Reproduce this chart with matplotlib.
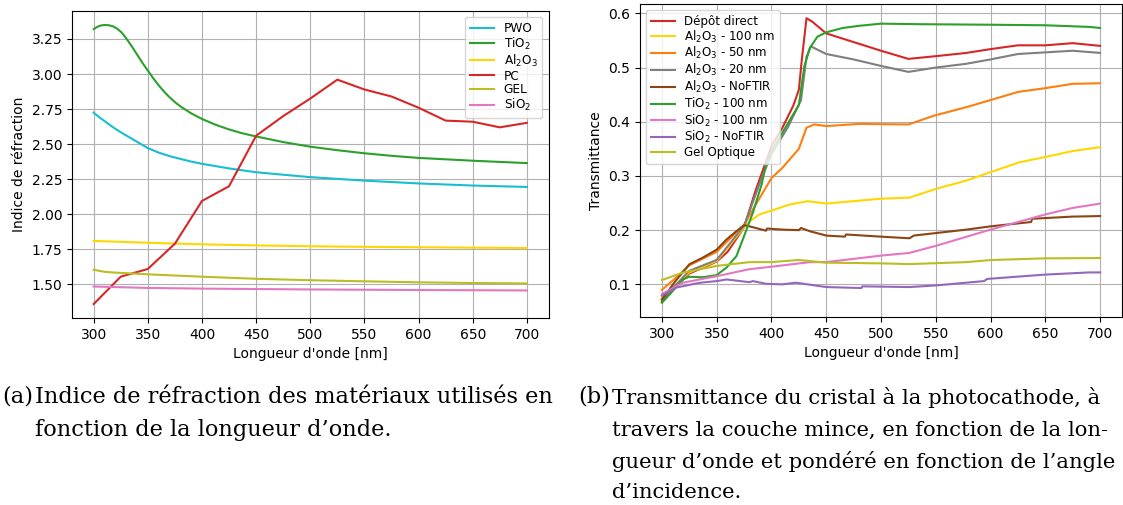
import matplotlib
matplotlib.use("Agg")
import matplotlib.pyplot as plt

# ---------------- Left panel: refractive indices ----------------
pwo_x = [300, 305, 310, 318, 325, 335, 350, 360, 370, 380, 390, 400, 425, 450, 475, 500, 550,
         600, 650, 700]
pwo_y = [2.725, 2.693, 2.665, 2.62, 2.585, 2.54, 2.472, 2.44, 2.415, 2.395, 2.376, 2.36, 2.327,
         2.30, 2.282, 2.265, 2.24, 2.22, 2.205, 2.195]

tio2_x = [300, 303, 306, 310, 314, 318, 322, 326, 330, 335, 340, 345, 350, 355, 360, 365, 370,
          375, 380, 390, 400, 412, 425, 437, 450, 475, 500, 525, 550, 575, 600, 650, 700]
tio2_y = [3.32, 3.335, 3.345, 3.35, 3.348, 3.34, 3.322, 3.295, 3.255, 3.20, 3.14, 3.08, 3.025,
          2.97, 2.92, 2.875, 2.835, 2.80, 2.77, 2.72, 2.68, 2.64, 2.605, 2.578, 2.555, 2.515,
          2.482, 2.457, 2.435, 2.417, 2.402, 2.382, 2.365]

al2o3_x = [300, 350, 400, 450, 500, 550, 600, 650, 700]
al2o3_y = [1.81, 1.797, 1.786, 1.778, 1.772, 1.768, 1.765, 1.762, 1.76]

pc_x = [300, 325, 350, 375, 400, 425, 450, 475, 500, 525, 550, 575, 600, 625, 650, 675, 700]
pc_y = [1.36, 1.555, 1.61, 1.79, 2.095, 2.20, 2.56, 2.70, 2.825, 2.96, 2.89, 2.84, 2.76,
        2.668, 2.66, 2.62, 2.652]

gel_x = [300, 305, 310, 318, 325, 350, 400, 450, 500, 550, 600, 650, 700]
gel_y = [1.605, 1.597, 1.59, 1.585, 1.582, 1.572, 1.555, 1.54, 1.53, 1.522, 1.515, 1.51, 1.507]

sio2_x = [300, 350, 400, 500, 600, 700]
sio2_y = [1.485, 1.475, 1.47, 1.464, 1.46, 1.457]

left_labels = ["PWO", r"TiO$_2$", r"Al$_2$O$_3$", "PC", "GEL", r"SiO$_2$"]

# ---------------- Right panel: transmittance ----------------
dd_x = [300, 310, 325, 340, 350, 360, 375, 385, 400, 410, 420, 425, 428, 432, 437, 450, 475,
        500, 525, 550, 578, 600, 625, 650, 675, 700]
dd_y = [0.069, 0.09, 0.12, 0.133, 0.142, 0.16, 0.205, 0.27, 0.355, 0.389, 0.43, 0.459, 0.52,
        0.591, 0.585, 0.563, 0.547, 0.531, 0.516, 0.521, 0.527, 0.534, 0.541, 0.541, 0.545, 0.540]

a100_x = [300, 325, 350, 375, 380, 389, 400, 416, 433, 450, 500, 526, 550, 578, 600, 626, 650, 675, 700]
a100_y = [0.075, 0.122, 0.143, 0.205, 0.216, 0.229, 0.236, 0.247, 0.2535, 0.249, 0.258, 0.26,
          0.276, 0.2915, 0.307, 0.325, 0.335, 0.346, 0.353]

a50_x = [300, 310, 325, 340, 350, 365, 375, 385, 400, 410, 425, 432, 439, 450, 480, 525, 548,
         578, 600, 625, 650, 675, 700]
a50_y = [0.09, 0.107, 0.135, 0.15, 0.16, 0.19, 0.21, 0.245, 0.296, 0.315, 0.350, 0.389, 0.395,
         0.392, 0.396, 0.395, 0.411, 0.427, 0.44, 0.455, 0.462, 0.470, 0.471]

a20_x = [300, 325, 350, 375, 390, 400, 415, 427, 432, 436, 450, 475, 500, 525, 550, 578, 600,
         625, 650, 675, 700]
a20_y = [0.072, 0.125, 0.145, 0.208, 0.29, 0.34, 0.39, 0.44, 0.52, 0.539, 0.525, 0.515, 0.503,
         0.492, 0.5, 0.507, 0.515, 0.525, 0.528, 0.531, 0.527]

anf_x = [300, 312, 325, 337, 350, 359, 368, 375, 380, 395, 396, 410, 425, 427, 435, 450, 467,
         468, 500, 526, 530, 578, 600, 637, 638, 675, 700]
anf_y = [0.072, 0.105, 0.137, 0.149, 0.164, 0.183, 0.198, 0.209, 0.207, 0.199, 0.203, 0.201,
         0.2, 0.204, 0.198, 0.19, 0.188, 0.192, 0.188, 0.185, 0.19, 0.201, 0.207, 0.215, 0.221,
         0.225, 0.226]

t100_x = [300, 310, 319, 325, 337, 350, 359, 368, 375, 383, 391, 395, 400, 410, 425, 430, 435,
          442, 450, 465, 480, 500, 535, 600, 650, 690, 700]
t100_y = [0.066, 0.088, 0.109, 0.114, 0.113, 0.117, 0.131, 0.152, 0.189, 0.232, 0.284, 0.321,
          0.345, 0.38, 0.431, 0.502, 0.536, 0.557, 0.565, 0.573, 0.577, 0.581, 0.580, 0.579,
          0.578, 0.575, 0.573]

s100_x = [300, 319, 350, 380, 400, 435, 450, 500, 526, 550, 600, 650, 675, 700]
s100_y = [0.082, 0.103, 0.115, 0.128, 0.1325, 0.141, 0.141, 0.153, 0.158, 0.171, 0.201, 0.229,
          0.241, 0.249]

snf_x = [300, 313, 325, 335, 350, 359, 380, 383, 395, 410, 422, 426, 450, 482, 483, 526, 550,
         594, 597, 650, 690, 700]
snf_y = [0.079, 0.094, 0.099, 0.103, 0.106, 0.109, 0.104, 0.106, 0.101, 0.100, 0.103, 0.102,
         0.095, 0.0932, 0.0963, 0.095, 0.098, 0.106, 0.110, 0.118, 0.122, 0.122]

gelo_x = [300, 319, 350, 380, 400, 425, 450, 500, 526, 578, 600, 650, 700]
gelo_y = [0.108, 0.1215, 0.134, 0.141, 0.141, 0.145, 0.14, 0.1387, 0.1374, 0.141, 0.1448,
          0.148, 0.1485]

right_labels = ["Dépôt direct", r"Al$_2$O$_3$ - 100 nm", r"Al$_2$O$_3$ - 50 nm",
                r"Al$_2$O$_3$ - 20 nm", r"Al$_2$O$_3$ - NoFTIR", r"TiO$_2$ - 100 nm",
                r"SiO$_2$ - 100 nm", r"SiO$_2$ - NoFTIR", "Gel Optique"]

xticks = [300, 350, 400, 450, 500, 550, 600, 650, 700]

W, H = 1123, 505
fig = plt.figure(figsize=(W / 100, H / 100), dpi=100)

def px_axes(x0, x1, ytop, ybot):
    return fig.add_axes([x0 / W, 1 - ybot / H, (x1 - x0) / W, (ybot - ytop) / H])

# Left
ax1 = px_axes(72, 548.5, 11, 318)
left_series = [(pwo_x, pwo_y, "tab:cyan"), (tio2_x, tio2_y, "tab:green"),
               (al2o3_x, al2o3_y, "gold"), (pc_x, pc_y, "tab:red"),
               (gel_x, gel_y, "tab:olive"), (sio2_x, sio2_y, "tab:pink")]
for (x, y, c), lab in zip(left_series, left_labels):
    ax1.plot(x, y, color=c, lw=1.5, label=lab)
ax1.set_xticks(xticks)
ax1.grid(True)
ax1.tick_params(labelsize=10)
ax1.set_xlabel("Longueur d'onde [nm]", fontsize=10)
ax1.set_ylabel("Indice de réfraction", fontsize=10)
ax1.legend(loc="upper right", fontsize=8.7, labelspacing=0.07)

# Right
ax2 = px_axes(640, 1122, 4, 317)
right_series = [(dd_x, dd_y, "tab:red"), (a100_x, a100_y, "gold"),
                (a50_x, a50_y, "tab:orange"), (a20_x, a20_y, "tab:gray"),
                (anf_x, anf_y, "saddlebrown"), (t100_x, t100_y, "tab:green"),
                (s100_x, s100_y, "tab:pink"), (snf_x, snf_y, "tab:purple"),
                (gelo_x, gelo_y, "tab:olive")]
for (x, y, c), lab in zip(right_series, right_labels):
    ax2.plot(x, y, color=c, lw=1.5, label=lab)
ax2.set_xticks(xticks)
ax2.grid(True)
ax2.tick_params(labelsize=10)
ax2.set_xlabel("Longueur d'onde [nm]", fontsize=10)
ax2.set_ylabel("Transmittance", fontsize=10)
ax2.legend(loc="upper left", fontsize=8.6, labelspacing=0.06)

# Captions
cap_font = "DejaVu Serif"
line_y = [397, 430, 462, 493]
def cap(x, yline, s, size):
    fig.text(x / W, 1 - yline / H, s, fontsize=size, family=cap_font,
             ha="left", va="center")

cap(2, line_y[0], "(a)", 16.2)
cap(35, line_y[0], "Indice de réfraction des matériaux utilisés en", 16.2)
cap(35, line_y[1], "fonction de la longueur d’onde.", 16.2)
cap(578, line_y[0], "(b)", 16.2)
cap(612, line_y[0], "Transmittance du cristal à la photocathode, à", 15.2)
cap(612, line_y[1], "travers la couche mince, en fonction de la lon-", 15.2)
cap(612, line_y[2], "gueur d’onde et pondéré en fonction de l’angle", 15.2)
cap(612, line_y[3], "d’incidence.", 15.2)

fig.savefig("out.png", dpi=100)
